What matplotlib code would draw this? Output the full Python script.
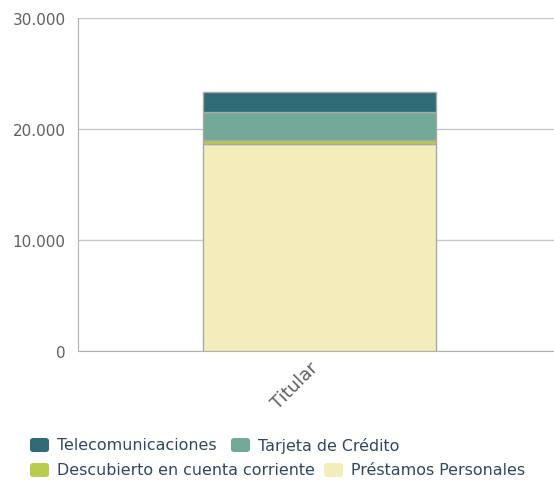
import matplotlib
matplotlib.use('Agg')
import matplotlib.pyplot as plt
import matplotlib.transforms as mtransforms
from matplotlib.patches import FancyBboxPatch

plt.rcParams['font.family'] = ['DejaVu Sans']

categories = ['Titular']
series_names = ['Préstamos Personales', 'Descubierto en cuenta corriente',
                'Tarjeta de Crédito', 'Telecomunicaciones']
prestamos = [18650]
descubierto = [360]
tarjeta = [2550]
telecom = [1770]
series_values = [prestamos, descubierto, tarjeta, telecom]
colors = ['#f3edbb', '#b9cc4e', '#72a898', '#2e6b77']
yticks = [0, 10000, 20000, 30000]
ytick_labels = ['0', '10.000', '20.000', '30.000']

fig = plt.figure(figsize=(5.54, 4.85), dpi=100)
ax = fig.add_axes([78 / 554, 1 - 352 / 485, 1 - 78 / 554, (352 - 19) / 485])

bottom = [0] * len(categories)
for vals, col in zip(series_values, colors):
    ax.bar(categories, vals, bottom=bottom, width=0.49, color=col,
           edgecolor='#a8a8a8', linewidth=1, zorder=3)
    bottom = [b + v for b, v in zip(bottom, vals)]

ax.set_xlim(-0.508, 0.492)
ax.set_ylim(0, 30000)
ax.set_yticks(yticks)
ax.set_yticklabels(ytick_labels)
ax.grid(axis='y', color='#c8c8c8', linewidth=1, zorder=0)
for s in ['top', 'right']:
    ax.spines[s].set_visible(False)
ax.spines['left'].set_color('#b0b0b0')
ax.spines['bottom'].set_color('#b0b0b0')
ax.tick_params(axis='y', length=0, pad=9, labelsize=11, labelcolor='#606060')
ax.tick_params(axis='x', length=0, pad=5, labelsize=13, labelcolor='#606060')
shift = mtransforms.ScaledTranslation(-11 / 100, 0, fig.dpi_scale_trans)
for lab in ax.get_xticklabels():
    lab.set_rotation(45)
    lab.set_ha('right')
    lab.set_rotation_mode('anchor')
    lab.set_transform(lab.get_transform() + shift)

# legend, laid out like the original (two flowing rows)
legend_items = [
    ('Telecomunicaciones', colors[3], 30, 446),
    ('Tarjeta de Crédito', colors[2], 231, 446),
    ('Descubierto en cuenta corriente', colors[1], 30, 471),
    ('Préstamos Personales', colors[0], 324, 471),
]
for name, col, x, y in legend_items:
    box = FancyBboxPatch((x / 554, 1 - (y + 7) / 485), 19 / 554, 14 / 485,
                         boxstyle='round,pad=0,rounding_size=0.006',
                         transform=fig.transFigure, facecolor=col,
                         edgecolor='none')
    fig.patches.append(box)
    fig.text((x + 27) / 554, 1 - y / 485, name, fontsize=11.4,
             color='#2f4760', va='center', ha='left')

fig.savefig('out.png', dpi=100)
